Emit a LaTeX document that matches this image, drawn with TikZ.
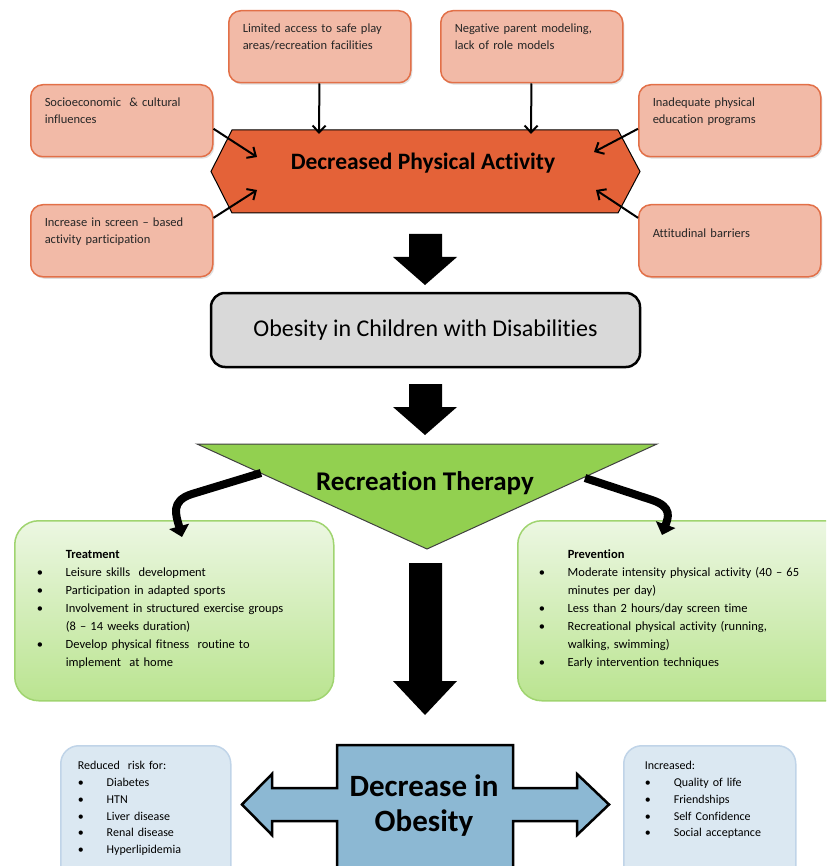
\documentclass[tikz,border=0pt]{standalone}
\usepackage{fontspec}
\setmainfont{Carlito}[Ligatures=NoCommon]
\usetikzlibrary{arrows.meta, shadows}

\definecolor{causefill}{RGB}{242,186,167}
\definecolor{causeline}{RGB}{226,112,72}
\definecolor{hexfill}{RGB}{228,98,56}
\definecolor{boxgray}{RGB}{217,217,217}
\definecolor{rtgreen}{RGB}{146,208,80}
\definecolor{listtop}{RGB}{236,247,226}
\definecolor{listbot}{RGB}{186,228,144}
\definecolor{listline}{RGB}{160,212,112}
\definecolor{riskfill}{RGB}{219,232,242}
\definecolor{riskline}{RGB}{192,212,232}
\definecolor{crossfill}{RGB}{140,184,211}

\newcommand{\causefont}{\fontsize{12.5}{16.5}\selectfont}
\newcommand{\listfont}{\fontsize{12.5}{18}\selectfont}
\newcommand{\riskfont}{\fontsize{12}{16.75}\selectfont}
\newcommand{\bitem}[1]{\par\hangindent=29pt\hangafter=1\noindent\makebox[29pt][l]{\textbullet}#1}

\begin{document}
\begin{tikzpicture} [x=1pt, y=-1pt,
            cause/.style = {rectangle, rounded corners=12pt,
                draw=causeline, line width=1.5pt, fill=causefill,
                anchor=north west, text width=154pt,
                inner xsep=14pt, inner ysep=8pt,
                text height=14pt, text depth=42pt,
                align=left, font=\causefont, text=black!85,
                drop shadow={opacity=0.25, shadow xshift=1.5pt, shadow yshift=-2pt}},
            plan/.style = {rectangle, rounded corners=24pt,
                draw=listline, line width=1.5pt,
                top color=listtop, bottom color=listbot,
                anchor=north west, inner xsep=22pt, inner ysep=10pt,
                text height=28pt, text depth=132pt,
                align=left, font=\listfont},
            gain/.style = {rectangle, rounded corners=18pt,
                draw=riskline, line width=1.5pt, fill=riskfill,
                anchor=north west, inner ysep=8pt,
                text height=16pt, text depth=113pt,
                align=left, font=\riskfont},
            headtext/.style = {font=\bfseries\fontsize{23.5}{28}\selectfont},
            feed/.style = {-{Straight Barb[length=7pt, width=13pt]}, line width=2pt},
            swoop/.style = {-{Triangle[length=11pt, width=20pt]}, line width=8pt}]

        \useasboundingbox (0,0) rectangle (826,866);
        \clip (0,0) rectangle (826,866);

        % Causes
        \node (lim) [cause] at (228,10) {Limited access to safe play\\areas/recreation facilities};
        \node (neg) [cause] at (440,10) {Negative parent modeling,\\lack of role models};
        \node (soc) [cause] at (30,84) {Socioeconomic \ \& cultural\\influences};
        \node (scr) [cause] at (30,204) {Increase in screen – based\\activity participation};
        \node (inad) [cause] at (638,84) {Inadequate physical\\education programs};
        \node (att) [cause,
            text height=25pt, text depth=31pt] at (638,204) {Attitudinal barriers};

        % Decreased physical activity
        \filldraw [fill=hexfill, draw=black, line width=1pt]
            (211,171.5) -- (232,130) -- (618,130) -- (640,171.5)
            -- (618,213) -- (232,213) -- cycle;
        \node (dpa) [headtext] at (423,163.5) {Decreased Physical Activity};

        \coordinate (lim-in) at (319,134);
        \coordinate (neg-in) at (531,134);
        \coordinate (soc-in) at (257,157);
        \coordinate (scr-in) at (257,190);
        \coordinate (inad-in) at (594,152);
        \coordinate (att-in) at (596,190);

        % Arrows into the hexagon
        \path [feed]
            (lim) edge (lim-in)
            (neg) edge (neg-in)
            (soc.-5) edge (soc-in)
            (scr.14) edge (scr-in)
            (inad.185) edge (inad-in)
            (att.166) edge (att-in);

        % Block arrows down
        \foreach \ytop/\ybase/\ytip in {234/257/285, 384/407/435, 563/681/715}
            \fill (409,\ytop) -- (442,\ytop) -- (442,\ybase) -- (457,\ybase)
                -- (425,\ytip) -- (393,\ybase) -- (409,\ybase) -- cycle;

        % Obesity
        \node (obs) [rectangle, rounded corners=14pt, draw, line width=2.5pt,
            fill=boxgray, minimum width=429pt, minimum height=74pt,
            font=\fontsize{24}{28}\selectfont] at (425.5,330)
            {Obesity in Children with Disabilities};

        % Recreation therapy
        \filldraw [fill=rtgreen, draw=black!75, line width=1pt]
            (197,444) -- (657,444) -- (427,549) -- cycle;
        \node (rt) [headtext, font=\bfseries\fontsize{27}{32}\selectfont]
            at (425,483) {Recreation Therapy};

        % Treatment and prevention
        \node (trt) [plan, text width=275pt] at (14,520) {%
            \noindent\hspace*{29pt}\textbf{Treatment}
            \bitem{Leisure skills \ development}
            \bitem{Participation in adapted sports}
            \bitem{Involvement in structured exercise groups\newline (8 – 14 weeks duration)}
            \bitem{Develop physical fitness \ routine to\newline implement \ at home}\par};
        \node (prv) [plan, text width=300pt, inner xsep=21pt] at (517,520) {%
            \noindent\hspace*{29pt}\textbf{Prevention}
            \bitem{Moderate intensity physical activity (40 – 65\newline minutes per day)}
            \bitem{Less than 2 hours/day screen time}
            \bitem{Recreational physical activity (running,\newline walking, swimming)}
            \bitem{Early intervention techniques}\par};

        \coordinate (rt-l) at (261,473);
        \coordinate (rt-r) at (585,478);
        \coordinate (trt-in) at (182,537);
        \coordinate (prv-in) at (662,535);

        \draw [swoop] (rt-l) -- (192,494)
            .. controls (170,501) and (176,515) .. (trt-in);
        \draw [swoop] (rt-r) -- (652,500)
            .. controls (673,507) and (668,518) .. (prv-in);

        % Decrease in obesity
        \filldraw [fill=crossfill, draw=black, line width=2.5pt]
            (337,745) -- (513,745) -- (513,788) -- (577,788) -- (577,774)
            -- (609,804.5) -- (577,835) -- (577,821) -- (513,821) -- (513,880)
            -- (337,880) -- (337,821) -- (272,821) -- (272,835) -- (242,804.5)
            -- (272,774) -- (272,788) -- (337,788) -- cycle;
        \node (dio) [align=center, font=\bfseries\fontsize{31}{35}\selectfont]
            at (424,806) {Decrease in\\Obesity};

        % Outcomes
        \node (rsk) [gain, text width=136pt, inner xsep=17pt] at (60,745) {%
            \noindent Reduced \ risk for:
            \bitem{Diabetes}
            \bitem{HTN}
            \bitem{Liver disease}
            \bitem{Renal disease}
            \bitem{Hyperlipidemia}\par};
        \node (inc) [gain, text width=130pt, inner xsep=21pt] at (623,745) {%
            \noindent Increased:
            \bitem{Quality of life}
            \bitem{Friendships}
            \bitem{Self Confidence}
            \bitem{Social acceptance}\par};
        \end{tikzpicture}
\end{document}
